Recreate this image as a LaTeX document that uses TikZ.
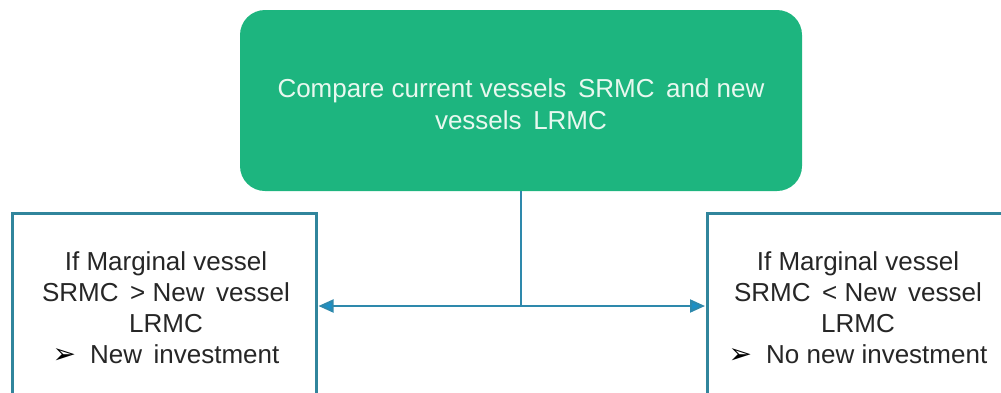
\documentclass[tikz,border=0pt]{standalone}
\usepackage{fontspec}
\setmainfont{Liberation Sans}
\newfontfamily\dejavu{DejaVu Sans}
\usetikzlibrary{arrows.meta}
\definecolor{boxgreen}{HTML}{1DB57F}
\definecolor{toptext}{HTML}{E8F8EF}
\definecolor{border}{HTML}{31859C}
\definecolor{conncol}{HTML}{2E89AC}
\definecolor{tipcol}{HTML}{1C8FC6}
\definecolor{bodytext}{HTML}{262626}
\newcommand{\bul}{{\dejavu\fontsize{28}{28}\selectfont\color{black}➢}}
\tikzset{
  topbox/.style={fill=boxgreen, draw=none, rounded corners=25pt, minimum width=562pt, minimum height=181pt, inner sep=0pt},
  sidebox/.style={draw=border, line width=2.5pt, fill=white, inner sep=0pt, anchor=north west},
  boxtext/.style={align=center, text=bodytext, font=\fontsize{26}{31}\selectfont, inner sep=0pt},
  conn/.style={draw=conncol, line width=2pt},
  arr/.style={conn, -{Triangle[length=15pt, width=13pt, fill=tipcol]}, shorten >=1pt}
}
\begin{document}
\begin{tikzpicture}[x=1pt, y=-1pt]
\useasboundingbox (0,0) rectangle (1001,392);
\clip (0,0) rectangle (1001,392);
\node[topbox] (top) at (521,100.5) {};
\node[align=center, text=toptext, font=\fontsize{26}{32}\selectfont, inner sep=0pt] (toptxt) at (521,104)
  {Compare current vessels\, SRMC\, and new\\vessels\, LRMC};
\node[sidebox, minimum width=304pt, minimum height=220pt] (L) at (11,212) {};
\node[sidebox, minimum width=320pt, minimum height=220pt] (R) at (706,212) {};
\node[boxtext] (Ltxt) at (166,308)
  {If Marginal vessel\\SRMC\, > New\, vessel\\LRMC\\\bul\hspace{14pt}New\, investment};
\node[boxtext] (Rtxt) at (858,308)
  {If Marginal vessel\\SRMC\, < New\, vessel\\LRMC\\\bul\hspace{14pt}No new investment};
\coordinate (J) at (521,306);
\draw[conn] (top.south) -- (J);
\draw[arr] (J) -- (J -| L.east);
\draw[arr] (J) -- (J -| R.west);
\end{tikzpicture}
\end{document}
